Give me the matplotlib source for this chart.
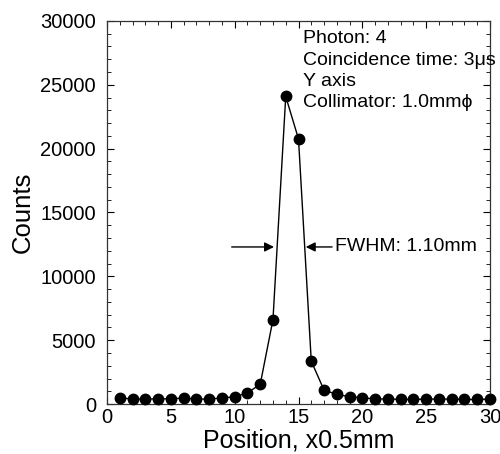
import matplotlib.pyplot as plt
import numpy as np

plt.rcParams['font.family'] = ['Liberation Sans', 'DejaVu Sans']

position = np.arange(1, 31)
counts = [490, 390, 390, 410, 410, 470, 390, 390, 480, 570,
          880, 1540, 6610, 24080, 20760, 3360, 1090, 760, 570, 490,
          410, 390, 370, 360, 390, 390, 390, 360, 360, 390]

info_lines = ["Photon: 4", "Coincidence time: 3\u03bcs", "Y axis", "Collimator: 1.0mm\u03d5"]
fwhm_label = "FWHM: 1.10mm"

fig = plt.figure(figsize=(5, 4.54), dpi=100)
ax = fig.add_axes([0.214, 0.110, 0.766, 0.844])

ax.plot(position, counts, color='black', lw=1, marker='o', markersize=7.5, clip_on=False, zorder=3)

ax.set_xlim(0, 30)
ax.set_ylim(0, 30000)
ax.set_xticks(np.arange(0, 31, 5))
ax.set_xticks(np.arange(0, 31, 1), minor=True)
ax.set_yticks(np.arange(0, 30001, 5000))
ax.set_yticks(np.arange(0, 30001, 1000), minor=True)
ax.tick_params(which='both', direction='in', top=True, right=True, labelsize=14.5)
ax.tick_params(axis='y', pad=8)
ax.tick_params(axis='x', pad=3)
ax.tick_params(which='major', length=5)
ax.tick_params(which='minor', length=3)
for s in ax.spines.values():
    s.set_linewidth(0.9)
    s.set_color('#333333')

ax.set_xlabel("Position, x0.5mm", fontsize=18, labelpad=1)
ax.set_ylabel("Counts", fontsize=18.5, labelpad=4)

ax.text(0.511, 0.975, "\n".join(info_lines), transform=ax.transAxes, fontsize=14,
        va='top', ha='left', linespacing=1.32)

y_arrow = 12300
ax.annotate("", xy=(13.3, y_arrow), xytext=(9.55, y_arrow),
            arrowprops=dict(arrowstyle='-|>', color='black', lw=1, mutation_scale=14))
ax.annotate("", xy=(15.35, y_arrow), xytext=(17.85, y_arrow),
            arrowprops=dict(arrowstyle='-|>', color='black', lw=1, mutation_scale=14))
ax.text(17.85, y_arrow, fwhm_label, fontsize=14, va='center', ha='left')

fig.savefig("out.png", dpi=100)
